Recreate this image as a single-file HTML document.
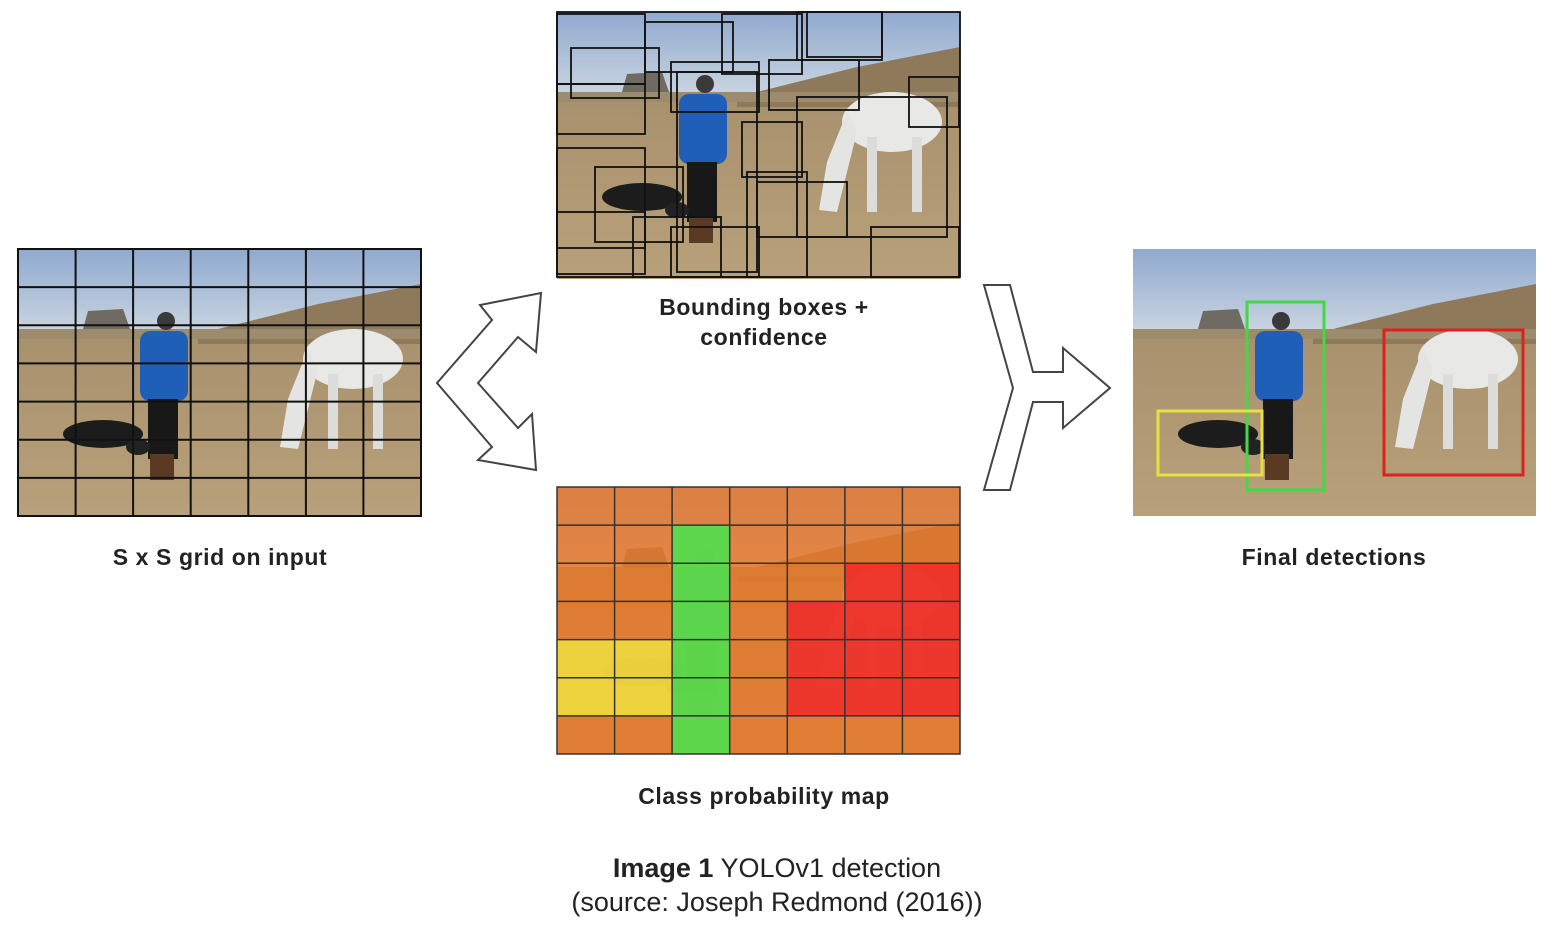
<!DOCTYPE html>
<html><head><meta charset="utf-8"><style>
html,body{margin:0;padding:0;background:#fff;}
body{width:1554px;height:928px;position:relative;overflow:hidden;font-family:"Liberation Sans",sans-serif;}
.lbl{position:absolute;font-weight:bold;font-size:23px;letter-spacing:0.6px;color:#222;text-align:center;line-height:30px;}
</style></head><body>
<svg width="1554" height="928" style="position:absolute;left:0;top:0">
<defs>
<linearGradient id="sky" x1="0" y1="0" x2="0" y2="1"><stop offset="0" stop-color="#8fa9cf"/><stop offset="1" stop-color="#c9d4e0"/></linearGradient>
<linearGradient id="gr" x1="0" y1="0" x2="0" y2="1"><stop offset="0" stop-color="#a08a66"/><stop offset="1" stop-color="#b8a07a"/></linearGradient>
<g id="scene">
<rect width="403" height="267" fill="url(#gr)"/>
<rect width="403" height="82" fill="url(#sky)"/>
<polygon points="180,85 300,55 403,35 403,95 180,95" fill="#8e7a5a"/>
<rect x="0" y="80" width="403" height="10" fill="#9c8b6c"/>
<polygon points="65,80 70,62 105,60 112,80" fill="#6f6a62"/>
<circle cx="148" cy="72" r="9" fill="#3a3a3a"/>
<rect x="122" y="82" width="48" height="70" rx="10" fill="#1f5fb8"/>
<rect x="130" y="150" width="30" height="60" fill="#181818"/>
<rect x="132" y="205" width="24" height="26" fill="#5a3a22"/>
<ellipse cx="85" cy="185" rx="40" ry="14" fill="#1c1c1c"/>
<ellipse cx="120" cy="198" rx="12" ry="8" fill="#222"/>
<ellipse cx="335" cy="110" rx="50" ry="30" fill="#e8e8e6"/>
<polygon points="290,100 300,120 280,200 262,198 270,150" fill="#e4e4e2"/>
<rect x="310" y="125" width="10" height="75" fill="#dcdcda"/>
<rect x="355" y="125" width="10" height="75" fill="#dcdcda"/>
</g>
</defs>
<g transform="translate(18,249)"><use href="#scene"/>
<g stroke="#111" stroke-width="2" fill="none">
<rect x="0" y="0" width="403" height="267"/>
<path d="M57.6 0V267M115.1 0V267M172.7 0V267M230.3 0V267M287.9 0V267M345.4 0V267M0 38.1H403M0 76.3H403M0 114.4H403M0 152.6H403M0 190.7H403M0 228.9H403"/>
</g></g>
<g transform="translate(557,12)"><use href="#scene"/>
<g stroke="#111" stroke-width="1.8" fill="none">
<rect x="0" y="0" width="403" height="265"/>
<rect x="0" y="2" width="88" height="70"/><rect x="14" y="36" width="88" height="50"/><rect x="88" y="10" width="88" height="50"/>
<rect x="165" y="2" width="80" height="60"/><rect x="240" y="0" width="85" height="48"/><rect x="250" y="0" width="75" height="45"/>
<rect x="212" y="48" width="90" height="50"/><rect x="114" y="50" width="88" height="50"/><rect x="352" y="65" width="50" height="50"/>
<rect x="0" y="72" width="88" height="50"/><rect x="0" y="136" width="88" height="100"/><rect x="38" y="155" width="88" height="75"/>
<rect x="0" y="200" width="88" height="62"/><rect x="76" y="205" width="88" height="60"/><rect x="114" y="215" width="88" height="50"/>
<rect x="185" y="110" width="60" height="55"/><rect x="190" y="160" width="60" height="105"/><rect x="200" y="170" width="90" height="55"/>
<rect x="240" y="85" width="150" height="140"/><rect x="314" y="215" width="88" height="50"/><rect x="120" y="60" width="80" height="200"/>
</g></g>
<g transform="translate(557,487)"><use href="#scene"/>
<rect width="403" height="267" fill="#e8782a" opacity="0.85"/>
<rect x="115.1" y="38.1" width="57.6" height="228.9" fill="#4fe04f" opacity="0.9"/>
<rect x="0" y="152.6" width="115.1" height="76.3" fill="#f0e040" opacity="0.85"/>
<rect x="287.9" y="76.3" width="115.1" height="38.1" fill="#ee2a2a" opacity="0.85"/>
<rect x="230.3" y="114.4" width="172.7" height="114.5" fill="#ee2a2a" opacity="0.85"/>
<g stroke="#333" stroke-width="1.5" fill="none">
<rect x="0" y="0" width="403" height="267"/>
<path d="M57.6 0V267M115.1 0V267M172.7 0V267M230.3 0V267M287.9 0V267M345.4 0V267M0 38.1H403M0 76.3H403M0 114.4H403M0 152.6H403M0 190.7H403M0 228.9H403"/>
</g></g>
<g transform="translate(1133,249)"><use href="#scene"/></g>
<rect x="1247" y="302" width="77" height="188" fill="none" stroke="#45d845" stroke-width="3"/>
<rect x="1384" y="330" width="139" height="145" fill="none" stroke="#e02020" stroke-width="3"/>
<rect x="1158" y="411" width="104" height="64" fill="none" stroke="#e8e040" stroke-width="3"/>
<path d="M541,293 L536,352 L518,337 L478,383 L518,428 L532,414 L536,470 L478,460 L492,447 L437,383 L492,320 L480,305 Z" fill="#fff" stroke="#444" stroke-width="2"/>
<path d="M984,285 L1010,285 L1033,372 L1063,372 L1063,348 L1110,388 L1063,428 L1063,402 L1033,402 L1010,490 L984,490 L1013,388 Z" fill="#fff" stroke="#444" stroke-width="2"/>
</svg>
<div class="lbl" style="left:20px;top:542px;width:400px">S x S grid on input</div>
<div class="lbl" style="left:564px;top:292px;width:400px">Bounding boxes +<br>confidence</div>
<div class="lbl" style="left:564px;top:781px;width:400px">Class probability map</div>
<div class="lbl" style="left:1134px;top:542px;width:400px">Final detections</div>
<div style="position:absolute;left:427px;top:851px;width:700px;text-align:center;font-size:27px;line-height:34px;color:#222"><b>Image 1</b> YOLOv1 detection<br>(source: Joseph Redmond (2016))</div>
</body></html>
